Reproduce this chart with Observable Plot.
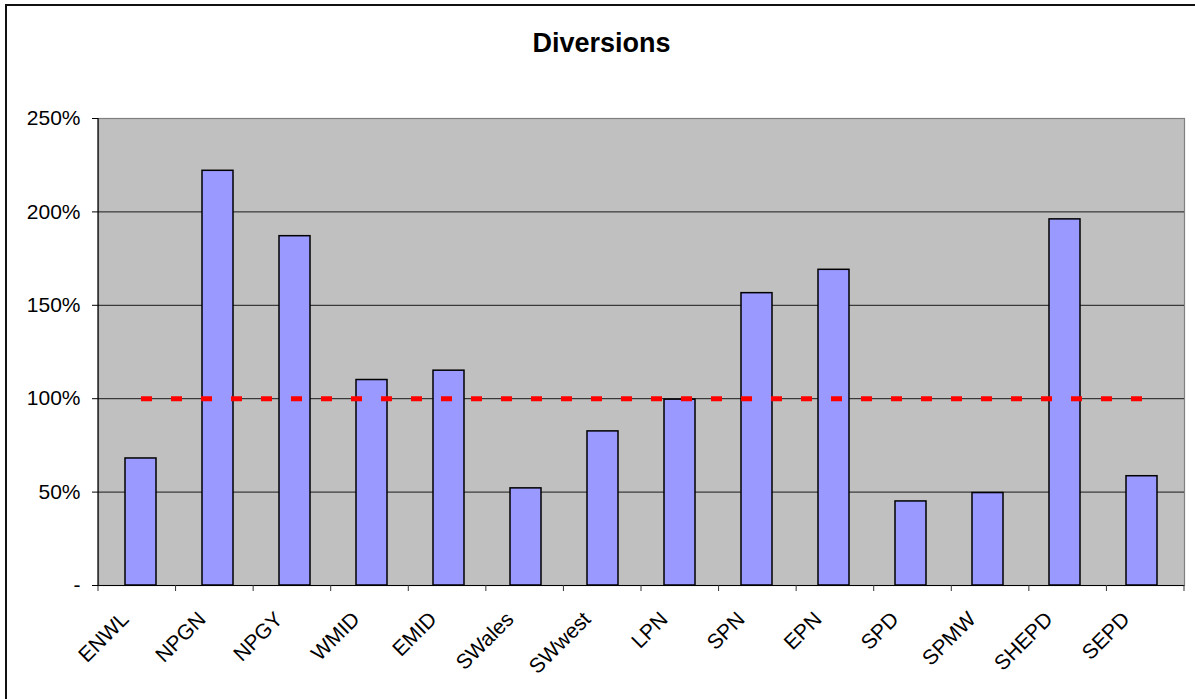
<!DOCTYPE html>
<html>
<head>
<meta charset="utf-8">
<script src="https://cdn.jsdelivr.net/npm/d3@7"></script>
<script src="https://cdn.jsdelivr.net/npm/@observablehq/plot@0.6"></script>
<style>
  html, body { margin: 0; padding: 0; background: #fff; overflow: hidden; }
  #chart { position: relative; width: 1195px; height: 699px; font-family: "Liberation Sans", Arial, sans-serif; }
  #chart svg { position: absolute; left: 0; top: 0; }
  #border { position: absolute; left: 5px; top: 4px; width: 1300px; height: 800px; border: 2px solid #111; }
  #title { position: absolute; left: 0; top: 28px; width: 1203px; text-align: center; font-weight: bold; font-size: 27px; color: #000; }
</style>
</head>
<body>
<div id="chart"></div>
<script>
// Distribution network operators
const categories = ["ENWL", "NPGN", "NPGY", "WMID", "EMID", "SWales", "SWwest", "LPN", "SPN", "EPN", "SPD", "SPMW", "SHEPD", "SEPD"];
// Diversions as a share of the reference level
const diversion = [0.68, 2.22, 1.87, 1.10, 1.15, 0.52, 0.825, 0.995, 1.565, 1.69, 0.45, 0.495, 1.96, 0.585];
// Reference level (100%) for each operator
const reference = [1, 1, 1, 1, 1, 1, 1, 1, 1, 1, 1, 1, 1, 1];
// Value axis ticks and their labels
const yTicks = [0, 0.5, 1, 1.5, 2, 2.5];
const yTickLabels = ["-", "50%", "100%", "150%", "200%", "250%"];

const rows = categories.map((region, i) => ({region, value: diversion[i], reference: reference[i]}));

// Left axis line and category-boundary tick marks under the baseline
function axisFurniture(index, scales, values, dims) {
  const g = d3.create("svg:g");
  const left = dims.marginLeft;
  const right = dims.width - dims.marginRight;
  const top = dims.marginTop;
  const bottom = dims.height - dims.marginBottom;
  g.append("line").attr("x1", left).attr("x2", left).attr("y1", top).attr("y2", bottom)
    .attr("stroke", "#000").attr("stroke-width", 1.2);
  const n = categories.length;
  const step = (right - left) / n;
  for (let i = 0; i <= n; i++) {
    const px = left + i * step;
    g.append("line").attr("x1", px).attr("x2", px).attr("y1", bottom).attr("y2", bottom + 6)
      .attr("stroke", "#333").attr("stroke-width", 1);
  }
  return g.node();
}

const plot = Plot.plot({
  width: 1195,
  height: 699,
  marginLeft: 98,
  marginRight: 11,
  marginTop: 118,
  marginBottom: 114,
  style: {background: "transparent", fontFamily: "Liberation Sans, Arial, sans-serif", fontSize: "21px", color: "#000"},
  x: {type: "band", domain: categories, paddingInner: 0.6, paddingOuter: 0.3, axis: null},
  y: {domain: [0, 2.5], nice: false, axis: null},
  marks: [
    Plot.frame({fill: "#c0c0c0", stroke: "#808080", strokeWidth: 1.2}),
    Plot.ruleY(yTicks.filter(d => d > 0 && d < 2.5), {stroke: "#1a1a1a", strokeWidth: 1}),
    Plot.barY(rows, {x: "region", y: "value", fill: "#9999ff", stroke: "#000", strokeWidth: 1.5}),
    Plot.lineY(rows, {x: "region", y: "reference", stroke: "#ff0000", strokeWidth: 5, strokeDasharray: "11,19", strokeLinecap: "butt"}),
    Plot.ruleY([0], {stroke: "#000", strokeWidth: 1.2}),
    axisFurniture,
    Plot.axisY({ticks: yTicks, tickFormat: d => yTickLabels[yTicks.indexOf(d)], tickSize: 6, tickPadding: 12, stroke: "#000", fill: "#000", fontSize: 21}),
    Plot.text(rows, {x: "region", text: "region", frameAnchor: "bottom", rotate: -45, textAnchor: "end", dx: -11, dy: 35, fill: "#000", fontSize: 21})
  ]
});

const chart = document.getElementById("chart");
chart.appendChild(plot);
const border = document.createElement("div");
border.id = "border";
chart.appendChild(border);
const title = document.createElement("div");
title.id = "title";
title.textContent = "Diversions";
chart.appendChild(title);
</script>
</body>
</html>
